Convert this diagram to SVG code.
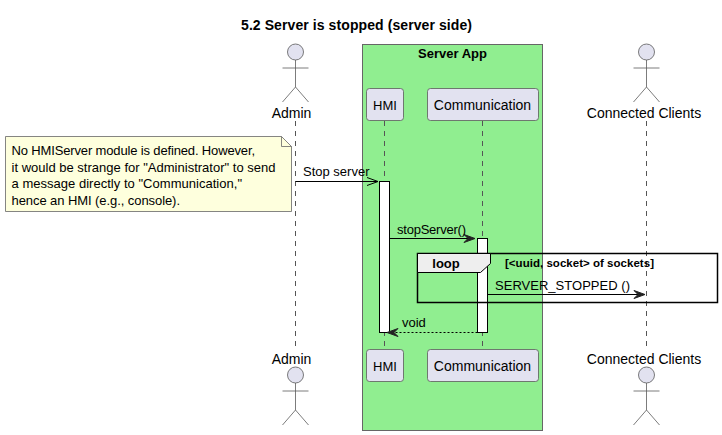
<svg xmlns="http://www.w3.org/2000/svg" width="722" height="435" viewBox="0 0 722 435">
<style>
text{font-family:"Liberation Sans",Arial,sans-serif;fill:#000}
.life{stroke:#555;stroke-width:1;stroke-dasharray:5 5;fill:none}
.part{fill:#E2E2F0;stroke:#5a5a5a;stroke-width:.8}
.actor{fill:none;stroke:#5a5a5a;stroke-width:.8}
.name{font-size:14px}
.msg{font-size:13px}
.act{fill:#fff;stroke:#000;stroke-width:1}
.line{stroke:#000;stroke-width:1;fill:none}
.head{fill:#222;stroke:#222;stroke-width:1}
</style>
<defs>
<g id="stick">
<circle class="part" cx="0" cy="0" r="8"/>
<path class="actor" d="M0 8V35M-13 16H13M0 35L-13 50M0 35L13 50"/>
</g>
</defs>
<rect width="722" height="435" fill="#fff"/>
<text x="241" y="30" font-size="14" font-weight="bold" textLength="231">5.2 Server is stopped (server side)</text>
<g id="box-server-app">
<rect x="362.500" y="44.500" width="180" height="386" fill="#90EE90" stroke="#666" stroke-width="1"/>
<text x="452.500" y="58" font-size="13" font-weight="bold" text-anchor="middle">Server App</text>
</g>
<g id="lifelines">
<path class="life" d="M295.500 121V349"/>
<path class="life" d="M384.500 121V349"/>
<path class="life" d="M482.500 121V349"/>
<path class="life" d="M646.500 121V349"/>
</g>
<g id="admin-top"><use href="#stick" x="295.500" y="52"/><text class="name" x="291.500" y="118" text-anchor="middle">Admin</text></g>
<g id="admin-bottom"><use href="#stick" x="295.500" y="375"/><text class="name" x="291.500" y="364" text-anchor="middle">Admin</text></g>
<g id="clients-top"><use href="#stick" x="646.500" y="52"/><text class="name" x="644" y="118" text-anchor="middle">Connected Clients</text></g>
<g id="clients-bottom"><use href="#stick" x="646.500" y="375"/><text class="name" x="644" y="364" text-anchor="middle">Connected Clients</text></g>
<g id="hmi-top"><rect class="part" x="366.500" y="88.500" width="37" height="32" rx="3"/><text class="name" x="385" y="110" text-anchor="middle" style="font-size:13px">HMI</text></g>
<g id="hmi-bottom"><rect class="part" x="366.500" y="349.500" width="37" height="32" rx="3"/><text class="name" x="385" y="371" text-anchor="middle" style="font-size:13px">HMI</text></g>
<g id="comm-top"><rect class="part" x="427.500" y="88.500" width="111" height="32" rx="3"/><text class="name" x="482.500" y="110" text-anchor="middle">Communication</text></g>
<g id="comm-bottom"><rect class="part" x="427.500" y="349.500" width="111" height="32" rx="3"/><text class="name" x="482.500" y="371" text-anchor="middle">Communication</text></g>
<g id="note">
<path d="M5.500 136.500H281.500L291.500 146.500V211.500H5.500Z" fill="#FEFFDD" stroke="#666" stroke-width=".8"/>
<path d="M281.500 136.500V146.500H291.500" fill="none" stroke="#666" stroke-width=".8"/>
<text class="msg" x="11.500" y="155" textLength="243.500">No HMIServer module is defined. However,</text>
<text class="msg" x="11.500" y="172" textLength="264">it would be strange for "Administrator" to send</text>
<text class="msg" x="11.500" y="188" textLength="230.500">a message directly to "Communication,"</text>
<text class="msg" x="11.500" y="205" textLength="168.500">hence an HMI (e.g., console).</text>
</g>
<g id="activations">
<rect class="act" x="379.500" y="181.500" width="10" height="151"/>
<rect class="act" x="477.500" y="238.500" width="10" height="94"/>
</g>
<g id="connectors">
<path class="line" d="M295.500 181.500H378M367 177.500L378 181.500L367 185.500"/>
<path class="line" d="M389.500 238.500H475"/>
<path class="head" d="M475 238.500L464 234.500L468 238.500L464 242.500Z"/>
<path class="line" d="M487.500 294.500H644"/>
<path class="head" d="M645 294.500L634 290.500L638 294.500L634 298.500Z"/>
<path class="line" stroke-dasharray="2 2" d="M477.500 332.500H391"/>
<path class="head" d="M387 332.500L398 328.500L394 332.500L398 336.500Z"/>
</g>
<g id="labels">
<text class="msg" x="303" y="176">Stop server</text>
<text class="msg" x="397" y="234" textLength="69">stopServer()</text>
<text class="msg" x="495" y="290" textLength="135">SERVER_STOPPED ()</text>
<text class="msg" x="402" y="327">void</text>
</g>
<g id="loop">
<rect x="417.500" y="253.500" width="300" height="49" fill="none" stroke="#000" stroke-width="1.500"/>
<path d="M417.500 253.500H490.500V263.500L480.500 272.500H417.500Z" fill="#EEE" stroke="#000" stroke-width="1"/>
<text x="446" y="268" font-size="13" font-weight="bold" text-anchor="middle">loop</text>
<text x="505" y="267" font-size="11.500" font-weight="bold" textLength="149">[&lt;uuid, socket&gt; of sockets]</text>
</g>
</svg>
